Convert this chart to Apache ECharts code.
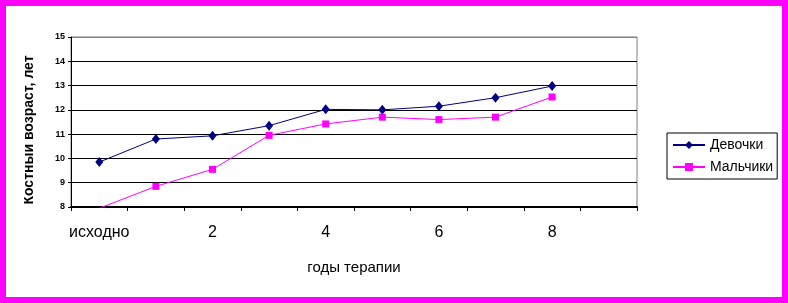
<!DOCTYPE html>
<html>
<head>
<meta charset="utf-8">
<script src="https://cdn.jsdelivr.net/npm/echarts@6/dist/echarts.min.js"></script>
<style>
html,body{margin:0;padding:0;background:#fff;}
#c{width:788px;height:303px;}
</style>
</head>
<body>
<div id="c"></div>
<script>
var categories = ['исходно', '1', '2', '3', '4', '5', '6', '7', '8', '9'];
var girls = [9.85, 10.8, 10.93, 11.35, 12.02, 12.0, 12.15, 12.5, 12.98];
var boys = [7.95, 8.85, 9.55, 10.95, 11.42, 11.7, 11.6, 11.7, 12.53];
var yTitle = 'Костный возраст, лет';
var xTitle = 'годы терапии';
var seriesNames = ['Девочки', 'Мальчики'];

var chart = echarts.init(document.getElementById('c'), null, {renderer: 'canvas'});
var font = 'Liberation Sans, Arial, sans-serif';
chart.setOption({
  animation: false,
  backgroundColor: '#fff',
  grid: {left: 71, right: 151, top: 37, bottom: 96, show: true, borderColor: '#808080', borderWidth: 1, backgroundColor: 'transparent'},
  legend: {
    orient: 'vertical', left: 667, top: 133,
    padding: [5, 4, 5, 5], itemGap: 8,
    itemWidth: 32, itemHeight: 10,
    borderColor: '#000', borderWidth: 1,
    textStyle: {fontFamily: font, fontSize: 14, color: '#000'},
    data: seriesNames
  },
  xAxis: {
    type: 'category', data: categories, boundaryGap: true,
    name: xTitle, nameLocation: 'middle', nameGap: 53,
    nameTextStyle: {fontFamily: font, fontSize: 15, color: '#000'},
    axisLine: {lineStyle: {color: '#000', width: 2}},
    axisTick: {show: true, interval: 0, length: 4, lineStyle: {color: '#000'}},
    axisLabel: {interval: 1, margin: 18, fontFamily: font, fontSize: 16, color: '#000'},
    splitLine: {show: false}
  },
  yAxis: {
    type: 'value', min: 8, max: 15, interval: 1,
    axisLine: {show: true, lineStyle: {color: '#000', width: 1}},
    axisTick: {show: true, length: 3, lineStyle: {color: '#000'}},
    axisLabel: {margin: 6, fontFamily: 'Liberation Sans Narrow, Arial Narrow, Liberation Sans, sans-serif', fontSize: 9, fontWeight: 'bold', color: '#000'},
    splitLine: {show: true, lineStyle: {color: ['#000', '#000', '#000', '#000', '#000', '#000', '#000', '#808080'], width: 1}}
  },
  series: [
    {
      name: seriesNames[0], type: 'line', data: girls, clip: true,
      symbol: 'diamond', symbolSize: [8, 10],
      lineStyle: {color: '#000080', width: 1},
      itemStyle: {color: '#000080'}
    },
    {
      name: seriesNames[1], type: 'line', data: boys, clip: true,
      symbol: 'rect', symbolSize: 7,
      lineStyle: {color: '#ff00ff', width: 1},
      itemStyle: {color: '#ff00ff'}
    }
  ],
  graphic: [
    {type: 'text', x: 36, y: 130, rotation: Math.PI / 2, z: 100,
     style: {text: yTitle, font: 'bold 14px ' + font, fill: '#000', align: 'center', verticalAlign: 'bottom'}},
    {type: 'rect', z: 101, shape: {x: 6, y: 40, width: 18, height: 180}, style: {fill: '#fff'}},
    {type: 'rect', z: 102, shape: {x: 3, y: 3, width: 782, height: 297}, style: {fill: 'none', stroke: '#ff00ff', lineWidth: 6}}
  ]
});
</script>
</body>
</html>
